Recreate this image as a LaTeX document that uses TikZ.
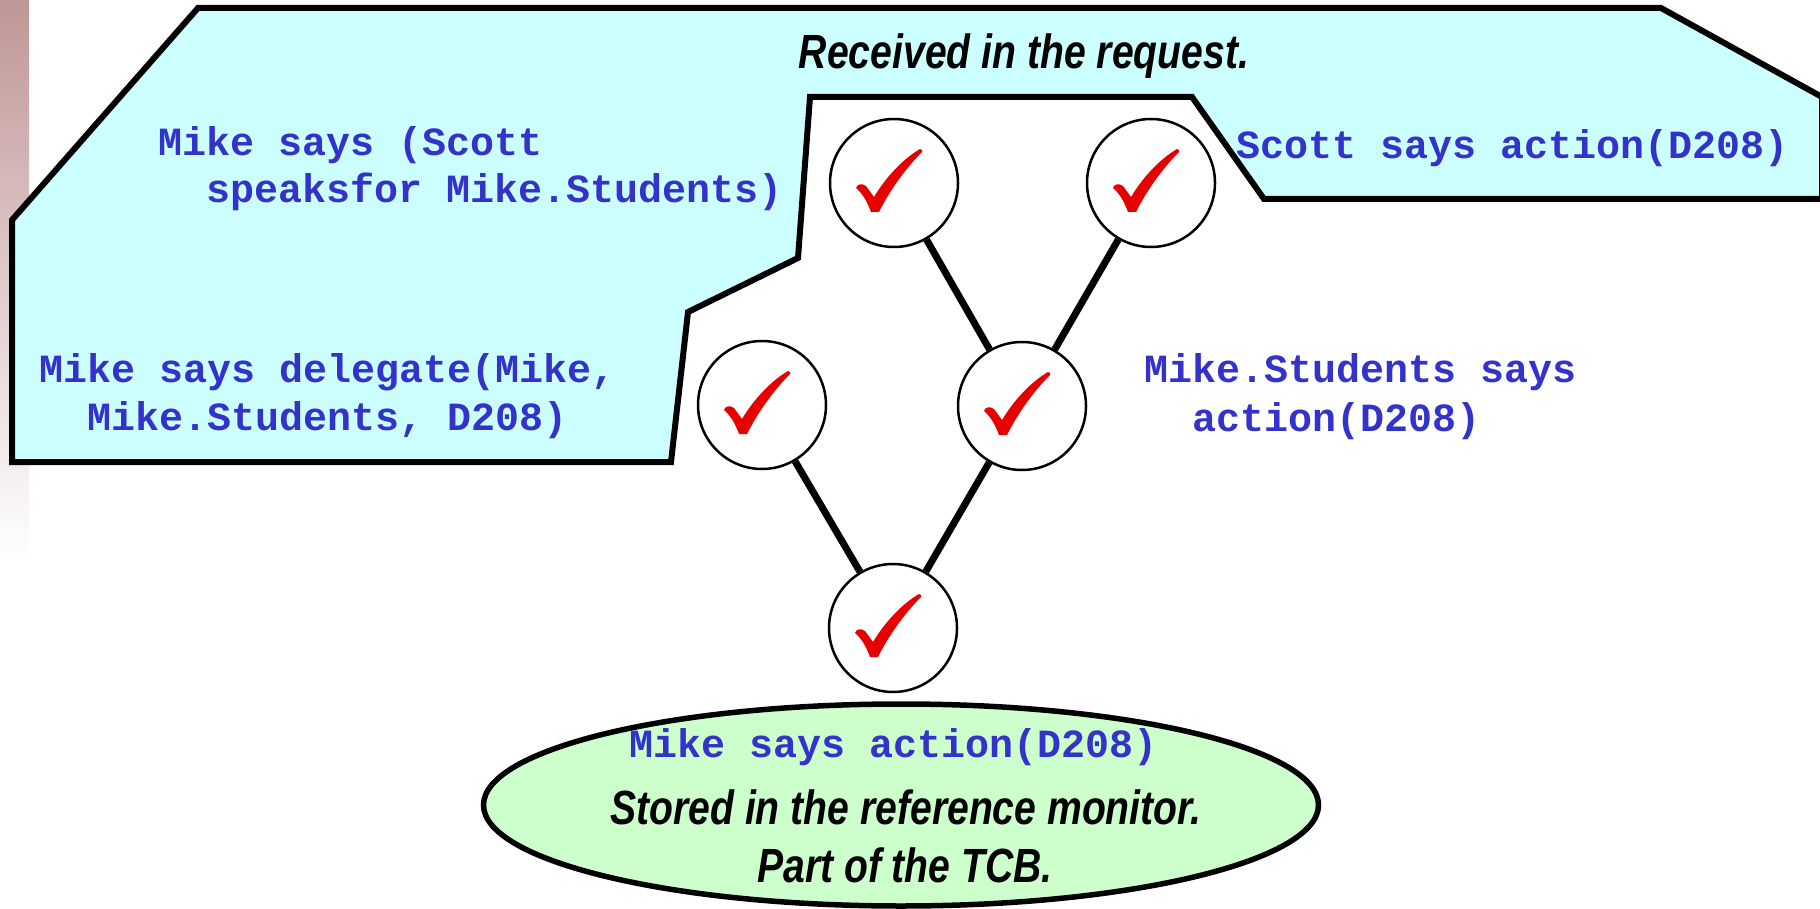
\documentclass[tikz,border=0pt]{standalone}
\usepackage{fontspec}
\usetikzlibrary{shapes.geometric}
\newfontfamily\notefont[FakeStretch=0.815]{Liberation Sans}
\newfontfamily\codefont{Liberation Mono}
\definecolor{reqfill}{HTML}{CCFFFF}
\definecolor{storefill}{HTML}{CCFFCC}
\definecolor{codeblue}{HTML}{3333CC}
\definecolor{checkred}{HTML}{E60000}
\definecolor{stripbrown}{HTML}{C09696}
\tikzset{
  region/.style={draw=black, line width=6pt, fill=reqfill},
  proofnode/.style={circle, draw=black, line width=2.5pt, fill=white,
    minimum size=128pt, inner sep=0pt},
  treeline/.style={line width=7pt, black},
  code/.style={anchor=base west, inner sep=0pt, text=codeblue,
    font=\codefont\bfseries\fontsize{40}{47}\selectfont},
  note/.style={anchor=base, inner sep=0pt, text=black,
    font=\notefont\bfseries\itshape\fontsize{48}{57}\selectfont},
  checkglyph/.pic={
    \fill[checkred] (-38,5) .. controls (-37,1) and (-32,0) .. (-28,3)
      -- (-20,14) .. controls (-8,-6) and (9,-24) .. (26,-34)
      .. controls (28,-34) and (29,-32) .. (28,-31)
      .. controls (12,-15) and (-4,7) .. (-15,29)
      -- (-23,29) .. controls (-27,18) and (-32,10) .. cycle;
  }
}
\begin{document}
\begin{tikzpicture}[x=1pt, y=-1pt]
\useasboundingbox (0,0) rectangle (1820,909);

% fading strip on the left edge
\shade[top color=stripbrown, bottom color=white] (0,0) rectangle (29,560);

% request region
\draw[region] (198,8) -- (12,220) -- (12,462) -- (671,462) -- (688,312)
  -- (798,258) -- (810,97) -- (1192,97) -- (1264,199) -- (1822,199)
  -- (1822,97) -- (1661,8) -- cycle;

% reference monitor store
\node[ellipse, draw=black, line width=5.5pt, fill=storefill,
  minimum width=835pt, minimum height=202pt, inner sep=0pt] (store) at (901,805) {};

% proof tree
\node[proofnode] (c1) at (894,183) {};
\node[proofnode] (c2) at (1151,183) {};
\node[proofnode] (c3) at (762,405) {};
\node[proofnode] (c4) at (1022,406) {};
\node[proofnode] (c5) at (893,628) {};
\draw[treeline] (c1) -- (c4);
\draw[treeline] (c2) -- (c4);
\draw[treeline] (c3) -- (c5);
\draw[treeline] (c4) -- (c5);
\foreach \n in {c1,c2,c3,c4,c5} \pic at (\n) {checkglyph};

% statements
\node[code] (t1a) at (158,156) {Mike says (Scott};
\node[code] (t1b) at (158,203) {\ \ speaksfor Mike.Students)};
\node[code] (t2a) at (39,382) {Mike says delegate(Mike,};
\node[code] (t2b) at (39,430) {\ \ Mike.Students, D208)};
\node[code] (t3) at (1236,159) {Scott says action(D208)};
\node[code] (t4a) at (1144,382) {Mike.Students says};
\node[code] (t4b) at (1144,431) {\ \ action(D208)};
\node[code] (t5) at (629,757) {Mike says action(D208)};

% captions
\node[note] (recv) at (1024,69) {Received in the request.};
\node[note] (stored) at (906,824) {Stored in the reference monitor.};
\node[note] (tcb) at (905,882) {Part of the TCB.};
\end{tikzpicture}
\end{document}
